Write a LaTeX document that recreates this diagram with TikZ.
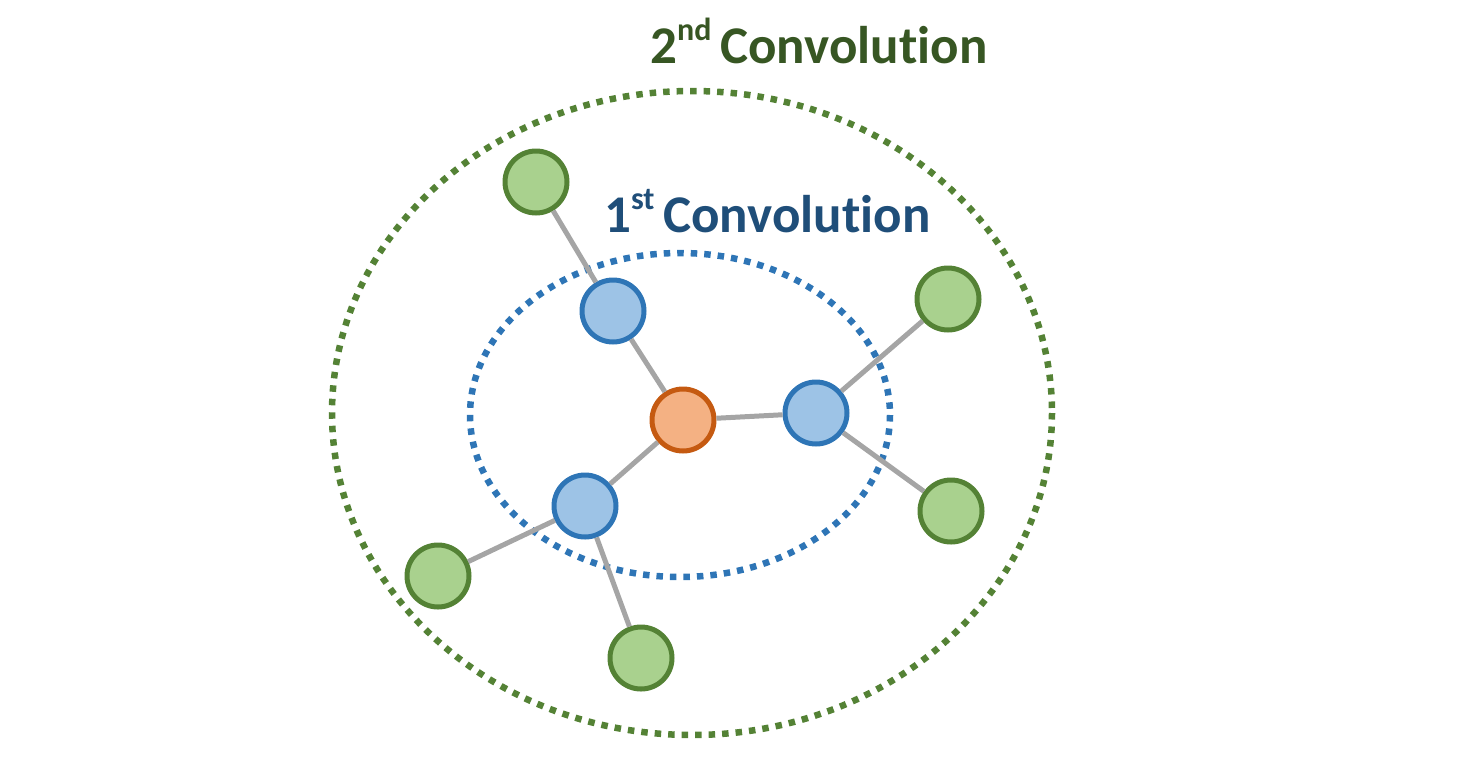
\documentclass[tikz,border=0pt]{standalone}
\usepackage{fontspec}
\setmainfont{Carlito}[Ligatures=NoCommon]
\definecolor{gtext}{HTML}{375623}
\definecolor{btext}{HTML}{1F4E79}
\definecolor{gline}{HTML}{548235}
\definecolor{bline}{HTML}{2E75B6}
\definecolor{gfill}{HTML}{A9D18E}
\definecolor{bfill}{HTML}{9DC3E6}
\definecolor{ofill}{HTML}{F4B183}
\definecolor{oline}{HTML}{C55A11}
\definecolor{edgec}{HTML}{A5A5A5}
\tikzset{
  nd/.style={circle,minimum size=62pt,inner sep=0pt,line width=5pt},
  gnode/.style={nd,draw=gline,fill=gfill},
  bnode/.style={nd,draw=bline,fill=bfill},
  onode/.style={nd,draw=oline,fill=ofill},
  edge/.style={draw=edgec,line width=5pt},
  ring/.style={line width=6.5pt,dash pattern=on 6.5pt off 7pt},
  ttl/.style={anchor=base west,inner sep=0pt,font=\fontsize{53}{60}\selectfont\bfseries}
}
\newcommand{\supx}[1]{\raisebox{0.42em}{\fontsize{32}{36}\selectfont #1}}
\begin{document}
\begin{tikzpicture}[x=1pt,y=-1pt]
\useasboundingbox (0,0) rectangle (1460,756);
\draw[ring,gline] (692,413) ellipse [x radius=360,y radius=322];
\draw[ring,bline] (680,415) ellipse [x radius=210,y radius=162];
\node[ttl,text=gtext] (t2) at (650,63) {2\supx{nd}\,Convolution};
\node[ttl,text=btext] (t1) at (604,232) {1\supx{st}\,Convolution};
\node[onode] (c) at (683,420) {};
\node[bnode] (b1) at (613,311) {};
\node[bnode] (b2) at (816,413) {};
\node[bnode] (b3) at (585,506) {};
\node[gnode] (g1) at (536,182) {};
\node[gnode] (g2) at (948,299) {};
\node[gnode] (g3) at (951,511) {};
\node[gnode] (g4) at (438,576) {};
\node[gnode] (g5) at (641,658) {};
\draw[edge] (g1) -- (b1);
\draw[edge] (b1) -- (c);
\draw[edge] (c) -- (b2);
\draw[edge] (c) -- (b3);
\draw[edge] (b2) -- (g2);
\draw[edge] (b2) -- (g3);
\draw[edge] (b3) -- (g4);
\draw[edge] (b3) -- (g5);
\end{tikzpicture}
\end{document}
